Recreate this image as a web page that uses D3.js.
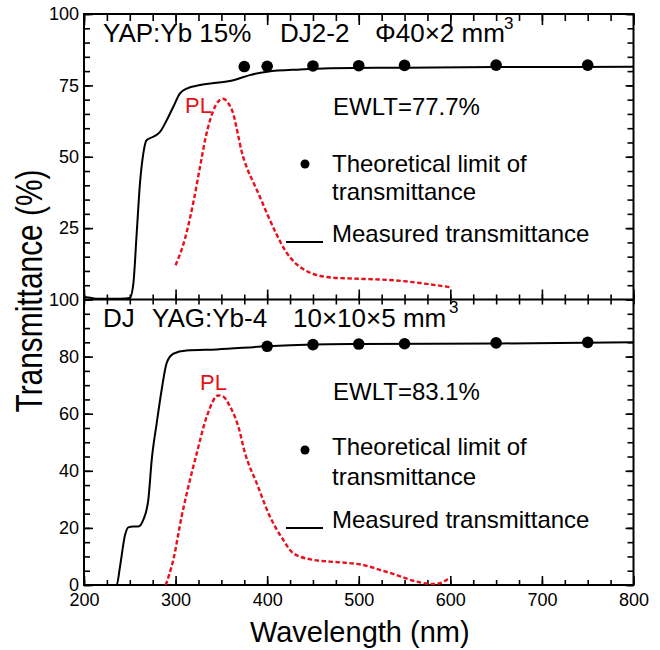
<!DOCTYPE html>
<html>
<head>
<meta charset="utf-8">
<script src="https://cdn.jsdelivr.net/npm/d3@7"></script>
<style>
  body { margin: 0; background: #fff; }
  text { font-family: "Liberation Sans", Arial, sans-serif; fill: #000; }
</style>
</head>
<body>
<svg class="chartSVG"></svg>
<script>
const svgWidth = 660;
const svgHeight = 650;

// ---- data ----
// top panel, YAP:Yb 15%
var topMeasured = [[200,0.9],[207,0.6],[215,0.3],[240,0.3],[250,0.5],[253.9,5.6],[257.5,23],[261.1,40.6],
  [264.7,51],[268.3,55.8],[275.6,57],[283,58.7],[290.3,62.8],[297.5,67.5],[304.8,72.2],[312.1,73.9],
  [326.6,75.1],[345,75.9],[363,76.8],[381,78.6],[400,79.8],[436,80.6],[469,81],[550,81.2],[650,81.4],[800,81.5]];
var topPL = [[300,12],[310,21],[320,35],[327,47],[333,57],[341,66],[347,69.5],[352,70.3],[357,69],
  [363,65],[368,58],[372,52],[378,46],[385,41],[392,36],[400,30],[410,23],[420,17],[430,13],[440,10.5],
  [455,8.5],[470,7.7],[505,7.2],[540,6.7],[578,5.3],[600,4.3]];
var topTheoryWl = [375, 400, 450, 500, 550, 650, 750];
var topTheoryT = [81.6, 81.7, 81.8, 81.9, 82.0, 82.1, 82.1];

// bottom panel, YAG:Yb-4
var botMeasured = [[200,0],[235.7,0],[239.3,6.4],[244.8,17.5],[248.4,20.2],[253.8,20.5],[259.3,20.5],
  [264.7,22.8],[270.2,29.8],[274,44],[279.4,56.7],[284.8,68.4],[290.3,77.8],[297.5,81],[312,82.1],
  [345,82.5],[400,83.6],[450,84.2],[500,84.4],[650,84.6],[800,85]];
var botPL = [[289.2,0],[297.5,8.8],[306.6,24],[315.7,36.8],[323,46],[334,59],[346.6,66.4],[352,66],
  [359.4,62.6],[368.5,55.5],[376,46],[388.5,35.7],[403,24],[417.6,15.8],[428.5,11.1],[450.3,8.8],
  [468.6,8.2],[505,7],[523,5.3],[541.3,3.5],[559.5,1.5],[581.4,0.35],[588.6,0.6],[599.6,2.7]];
var botTheoryWl = [400, 450, 500, 550, 650, 750];
var botTheoryT = [83.6, 84.2, 84.4, 84.5, 84.8, 85.0];

// ticks
var xMajor = [200, 300, 400, 500, 600, 700, 800];
var xMinor = d3.range(200, 801, 25);
var topYLabels = [25, 50, 75, 100];
var botYLabels = [0, 20, 40, 60, 80, 100];
var yMinor = d3.range(0, 101, 5);

// plot box (window.top is reserved, so no bare "top")
var box = { left: 84, right: 633.5, top: 14, mid: 299.5, bottom: 585 };

const svg = d3.select('.chartSVG')
  .attr('width', svgWidth)
  .attr('height', svgHeight);

var x = d3.scaleLinear().domain([200, 800]).range([box.left, box.right]);
var yTop = d3.scaleLinear().domain([0, 100]).range([box.mid, box.top]);
var yBot = d3.scaleLinear().domain([0, 100]).range([box.bottom, box.mid]);

// helper to draw an axis group with the domain removed
function tickGroup(axis, tx, ty) {
  var g = svg.append('g')
    .attr('transform', `translate(${tx},${ty})`)
    .call(axis);
  g.select('.domain').remove();
  g.selectAll('line').attr('stroke', '#000').attr('stroke-width', 1.6);
  g.selectAll('text').attr('font-size', 18).attr('font-family', '"Liberation Sans", Arial, sans-serif');
  return g;
}

// x ticks: top edge (down), shared middle edge, bottom edge (up)
tickGroup(d3.axisTop(x).tickValues(xMajor).tickSizeInner(-11).tickSizeOuter(0).tickFormat(''), 0, box.top);
tickGroup(d3.axisTop(x).tickValues(xMinor).tickSizeInner(-7).tickSizeOuter(0).tickFormat(''), 0, box.top);
tickGroup(d3.axisBottom(x).tickValues(xMajor).tickSizeInner(-10).tickSizeOuter(0).tickFormat(''), 0, box.mid);
tickGroup(d3.axisBottom(x).tickValues(xMinor).tickSizeInner(10).tickSizeOuter(0).tickFormat(''), 0, box.mid - 5);
tickGroup(d3.axisBottom(x).tickValues(xMajor).tickSizeInner(-9).tickSizeOuter(0).tickPadding(8).tickFormat(d3.format('d')), 0, box.bottom);
tickGroup(d3.axisBottom(x).tickValues(xMinor).tickSizeInner(-5).tickSizeOuter(0).tickFormat(''), 0, box.bottom);

// y ticks left
tickGroup(d3.axisLeft(yTop).tickValues(topYLabels).tickSizeInner(-9).tickSizeOuter(0).tickPadding(5), box.left, 0);
tickGroup(d3.axisLeft(yTop).tickValues(yMinor).tickSizeInner(-6).tickSizeOuter(0).tickFormat(''), box.left, 0);
tickGroup(d3.axisLeft(yBot).tickValues(botYLabels).tickSizeInner(-9).tickSizeOuter(0).tickPadding(5), box.left, 0);
tickGroup(d3.axisLeft(yBot).tickValues(yMinor).tickSizeInner(-6).tickSizeOuter(0).tickFormat(''), box.left, 0);
// y ticks right
tickGroup(d3.axisRight(yTop).tickValues(topYLabels).tickSizeInner(-8).tickSizeOuter(0).tickFormat(''), box.right, 0);
tickGroup(d3.axisRight(yTop).tickValues(yMinor).tickSizeInner(-6).tickSizeOuter(0).tickFormat(''), box.right, 0);
tickGroup(d3.axisRight(yBot).tickValues(botYLabels).tickSizeInner(-8).tickSizeOuter(0).tickFormat(''), box.right, 0);
tickGroup(d3.axisRight(yBot).tickValues(yMinor).tickSizeInner(-6).tickSizeOuter(0).tickFormat(''), box.right, 0);

// frame + middle divider
svg.append('rect')
  .attr('x', box.left).attr('y', box.top)
  .attr('width', box.right - box.left).attr('height', box.bottom - box.top)
  .attr('fill', 'none').attr('stroke', '#000').attr('stroke-width', 2);
svg.append('line')
  .attr('x1', box.left).attr('x2', box.right).attr('y1', box.mid).attr('y2', box.mid)
  .attr('stroke', '#000').attr('stroke-width', 2);

// curves
function drawPanel(y, measured, pl, thWl, thT) {
  var line = d3.line()
    .x(function(d) { return x(d[0]); })
    .y(function(d) { return y(d[1]); })
    .curve(d3.curveMonotoneX);
  svg.append('path')
    .datum(pl)
    .attr('fill', 'none')
    .attr('stroke', '#e8101a')
    .attr('stroke-width', 2.4)
    .attr('stroke-dasharray', '4.5,2.5')
    .attr('d', line);
  svg.append('path')
    .datum(measured)
    .attr('fill', 'none')
    .attr('stroke', '#000')
    .attr('stroke-width', 2)
    .attr('d', line);
  svg.selectAll(null)
    .data(thWl)
    .enter().append('circle')
    .attr('cx', function(d) { return x(d); })
    .attr('cy', function(d, i) { return y(thT[i]); })
    .attr('r', 5.8)
    .attr('fill', '#000');
}
drawPanel(yTop, topMeasured, topPL, topTheoryWl, topTheoryT);
drawPanel(yBot, botMeasured, botPL, botTheoryWl, botTheoryT);

// texts
function label(txt, tx, ty, size, color) {
  return svg.append('text')
    .attr('x', tx).attr('y', ty)
    .attr('font-size', size)
    .style('fill', color || '#000')
    .text(txt);
}

// top panel
label('YAP:Yb 15%', 103, 42, 26);
label('DJ2-2', 280, 42, 26);
label('\u03A640\u00D72 mm', 375, 42, 26);
label('3', 504, 29, 17);
label('PL', 185, 113, 22, '#e8101a');
label('EWLT=77.7%', 333, 115, 24);
label('Theoretical limit of', 332, 172, 24);
label('transmittance', 332, 200, 24);
label('Measured transmittance', 332, 242, 24);
svg.append('circle').attr('cx', 305).attr('cy', 164).attr('r', 4.5).attr('fill', '#000');
svg.append('line').attr('x1', 286).attr('x2', 323).attr('y1', 242).attr('y2', 242)
  .attr('stroke', '#000').attr('stroke-width', 2);

// bottom panel
label('DJ', 103, 327, 26);
label('YAG:Yb-4', 152, 327, 26);
label('10\u00D710\u00D75 mm', 293, 327, 26);
label('3', 449, 313, 17);
label('PL', 200, 390, 22, '#e8101a');
label('EWLT=83.1%', 333, 400, 24);
label('Theoretical limit of', 332, 455, 24);
label('transmittance', 332, 485, 24);
label('Measured transmittance', 332, 528, 24);
svg.append('circle').attr('cx', 305).attr('cy', 450).attr('r', 4.5).attr('fill', '#000');
svg.append('line').attr('x1', 286).attr('x2', 323).attr('y1', 528).attr('y2', 528)
  .attr('stroke', '#000').attr('stroke-width', 2);

// axis titles
svg.append('text')
  .attr('x', (box.left + box.right) / 2 + 1)
  .attr('y', 642)
  .attr('font-size', 29)
  .style('text-anchor', 'middle')
  .text('Wavelength (nm)');
svg.append('text')
  .attr('transform', 'translate(42,291) rotate(-90)')
  .attr('font-size', 37)
  .attr('textLength', 243)
  .attr('lengthAdjust', 'spacingAndGlyphs')
  .style('text-anchor', 'middle')
  .text('Transmittance (%)');
</script>
</body>
</html>
